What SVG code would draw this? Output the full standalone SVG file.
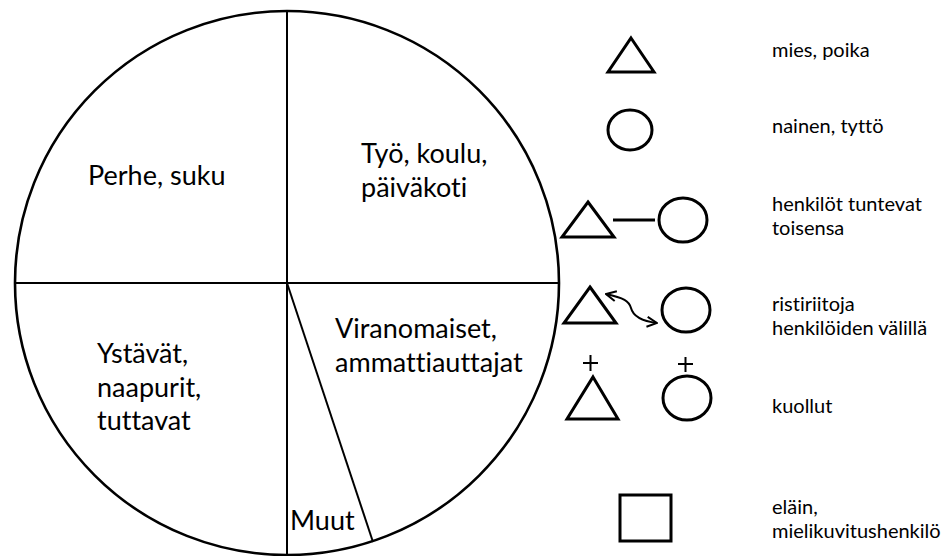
<svg xmlns="http://www.w3.org/2000/svg" width="941" height="556" viewBox="0 0 941 556">
<style>
  .main { font-family: Lato, "Liberation Sans", Arial, sans-serif; font-size: 27px; fill: #000; font-variant-ligatures: none; font-feature-settings: "liga" 0, "dlig" 0; }
  .leg { font-family: Lato, "Liberation Sans", Arial, sans-serif; font-size: 20px; fill: #000; font-variant-ligatures: none; font-feature-settings: "liga" 0, "dlig" 0; }
  .div { stroke: #000; stroke-width: 2; fill: none; }
  .sym { stroke: #000; stroke-width: 3; fill: none; stroke-linejoin: miter; }
  .thin { stroke: #000; stroke-width: 2; fill: none; }
</style>
<defs>
  <marker id="vhead" viewBox="0 0 12 12" refX="11" refY="6" markerWidth="12" markerHeight="12" markerUnits="userSpaceOnUse" orient="auto-start-reverse">
    <path d="M1,1 L11,6 L1,11" fill="none" stroke="#000" stroke-width="2"/>
  </marker>
</defs>
<rect width="941" height="556" fill="#fff"/>

<g id="chart">
  <circle cx="287" cy="283" r="272" fill="none" stroke="#000" stroke-width="2.6"/>
</g>
<g id="connectors">
  <line class="div" x1="287" y1="11" x2="287" y2="556"/>
  <line class="div" x1="15" y1="283" x2="559" y2="283"/>
  <line class="div" x1="287" y1="283" x2="373" y2="542"/>
</g>

<g id="sector-perhe"><text class="main" x="88" y="185">Perhe, suku</text></g>
<g id="sector-tyo">
  <text class="main" x="361" y="163">Työ, koulu,</text>
  <text class="main" x="361" y="197">päiväkoti</text>
</g>
<g id="sector-ystavat">
  <text class="main" x="97" y="363">Ystävät,</text>
  <text class="main" x="97" y="397">naapurit,</text>
  <text class="main" x="97" y="430">tuttavat</text>
</g>
<g id="sector-viranomaiset">
  <text class="main" x="335" y="338">Viranomaiset,</text>
  <text class="main" x="335" y="372">ammattiauttajat</text>
</g>
<g id="sector-muut"><text class="main" x="290" y="530">Muut</text></g>

<g id="legend-mies">
  <polygon class="sym" points="631,38 654,72 608,72"/>
  <text class="leg" x="772" y="57">mies, poika</text>
</g>
<g id="legend-nainen">
  <ellipse class="sym" cx="630" cy="130" rx="22" ry="20"/>
  <text class="leg" x="772" y="133">nainen, tyttö</text>
</g>
<g id="legend-tuntevat">
  <polygon class="sym" points="588,202 614,237 562,237"/>
  <line class="sym" x1="613" y1="220" x2="655" y2="220"/>
  <ellipse class="sym" cx="683" cy="220" rx="24" ry="22"/>
  <text class="leg" x="772" y="211">henkilöt tuntevat</text>
  <text class="leg" x="772" y="235">toisensa</text>
</g>
<g id="legend-ristiriita">
  <polygon class="sym" points="590,287 616,323 564,323"/>
  <path class="thin" d="M606,294 C624,298 629,301 631,308 C633,316 641,321 657,323" marker-start="url(#vhead)" marker-end="url(#vhead)"/>
  <ellipse class="sym" cx="686" cy="310" rx="24" ry="22"/>
  <text class="leg" x="772" y="311">ristiriitoja</text>
  <text class="leg" x="772" y="335">henkilöiden välillä</text>
</g>
<g id="legend-kuollut">
  <path class="thin" d="M583,363 H598 M590.5,355 V371"/>
  <polygon class="sym" points="593,377 618,419 567,419"/>
  <path class="thin" d="M678,364 H693 M685.5,357 V372"/>
  <ellipse class="sym" cx="687" cy="398" rx="24" ry="22"/>
  <text class="leg" x="772" y="413">kuollut</text>
</g>
<g id="legend-elain">
  <rect class="sym" x="620" y="495" width="51" height="46"/>
  <text class="leg" x="772" y="514">eläin,</text>
  <text class="leg" x="772" y="538">mielikuvitushenkilö</text>
</g>
</svg>
